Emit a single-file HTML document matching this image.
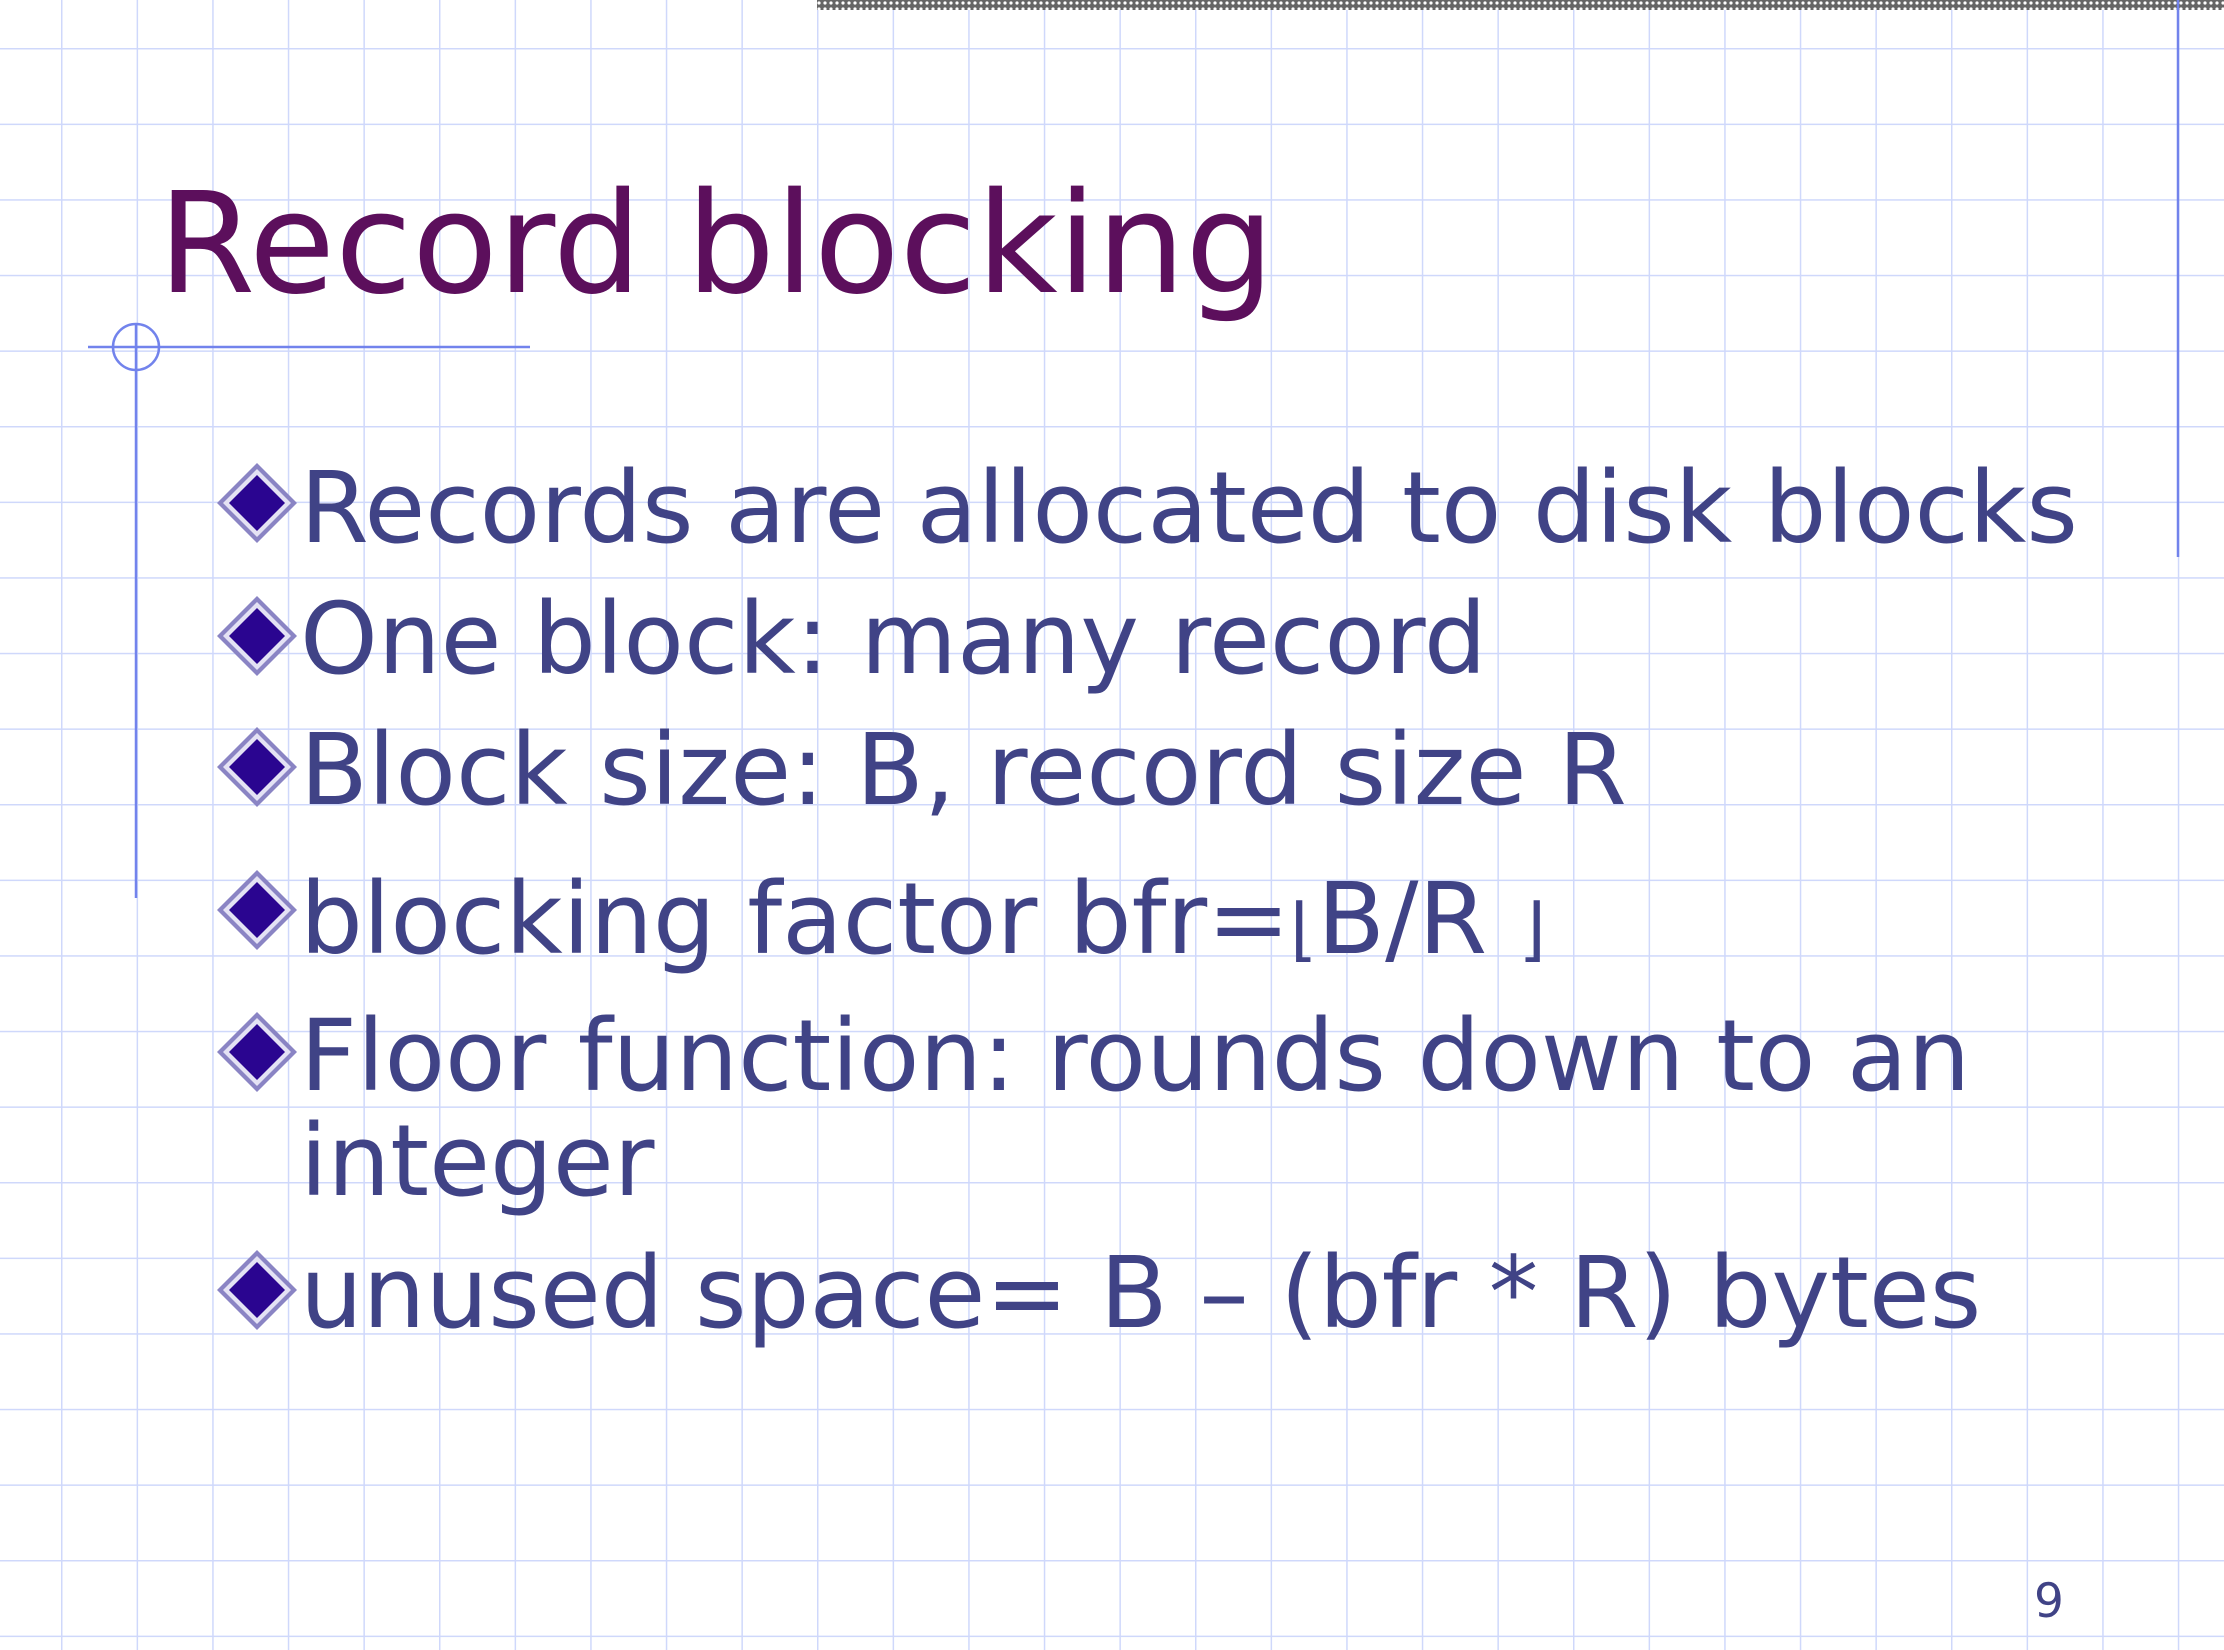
<!DOCTYPE html>
<html><head><meta charset="utf-8"><style>
html,body{margin:0;padding:0;}
body{width:2224px;height:1650px;position:relative;overflow:hidden;background:#fff;font-family:"DejaVu Sans","Liberation Sans",sans-serif;}
.t{position:absolute;white-space:nowrap;line-height:1;}
.b{color:#404386;font-size:99px;left:300px;}
</style></head><body>
<svg width="2224" height="1650" style="position:absolute;left:0;top:0">
<defs>
<pattern id="g" x="61" y="48" width="75.6" height="75.6" patternUnits="userSpaceOnUse">
<path d="M0 0 V75.6 M0 0 H75.6" stroke="#cfd8fb" stroke-width="3" fill="none"/>
</pattern>
<pattern id="h" width="6" height="6" patternUnits="userSpaceOnUse">
<rect width="6" height="6" fill="#666"/><circle cx="3" cy="3" r="1.6" fill="#fff"/>
</pattern>
<g id="d">
<polygon points="0,-40 40,0 0,40 -40,0" fill="#8a84c4"/>
<polygon points="0,-34 34,0 0,34 -34,0" fill="#e4e2f4"/>
<polygon points="0,-28 28,0 0,28 -28,0" fill="#2a0590"/>
</g>
</defs>
<rect width="2224" height="1650" fill="url(#g)"/>
<rect x="817" y="0" width="1407" height="10" fill="url(#h)"/>
<line x1="2178" y1="0" x2="2178" y2="557" stroke="#7283ec" stroke-width="2.5"/>
<line x1="88" y1="347" x2="530" y2="347" stroke="#7283ec" stroke-width="2.5"/>
<line x1="136" y1="325" x2="136" y2="898" stroke="#7283ec" stroke-width="2.5"/>
<circle cx="136" cy="347" r="23" fill="none" stroke="#7283ec" stroke-width="2.5"/>
<use href="#d" x="257" y="503"/>
<use href="#d" x="257" y="636"/>
<use href="#d" x="257" y="767"/>
<use href="#d" x="257" y="910"/>
<use href="#d" x="257" y="1052"/>
<use href="#d" x="257" y="1290"/>
</svg>
<div class="t" style="left:158px;top:281px;font-size:140px;color:#5c0f5c;height:0"><span style="position:relative;top:-0.76em;display:inline-block">Record blocking</span></div>
<div class="t b" style="top:582px;"><span style="position:absolute;bottom:0.24em;left:0">Records are allocated to disk blocks</span></div>
<div class="t b" style="top:713px;"><span style="position:absolute;bottom:0.24em;left:0">One block: many record</span></div>
<div class="t b" style="top:844px;"><span style="position:absolute;bottom:0.24em;left:0">Block size: B, record size R</span></div>
<div class="t b" style="top:993px;"><span style="position:absolute;bottom:0.24em;left:0">blocking factor bfr=<span style="font-size:70%">⌊</span>B/R <span style="font-size:70%">⌋</span></span></div>
<div class="t b" style="top:1130px;"><span style="position:absolute;bottom:0.24em;left:0">Floor function: rounds down to an</span></div>
<div class="t b" style="top:1235px;"><span style="position:absolute;bottom:0.24em;left:0">integer</span></div>
<div class="t b" style="top:1367px;"><span style="position:absolute;bottom:0.24em;left:0">unused space= B – (bfr * R) bytes</span></div>
<div class="t" style="left:2034px;top:1578px;font-size:47px;color:#404386;">9</div>
</body></html>
